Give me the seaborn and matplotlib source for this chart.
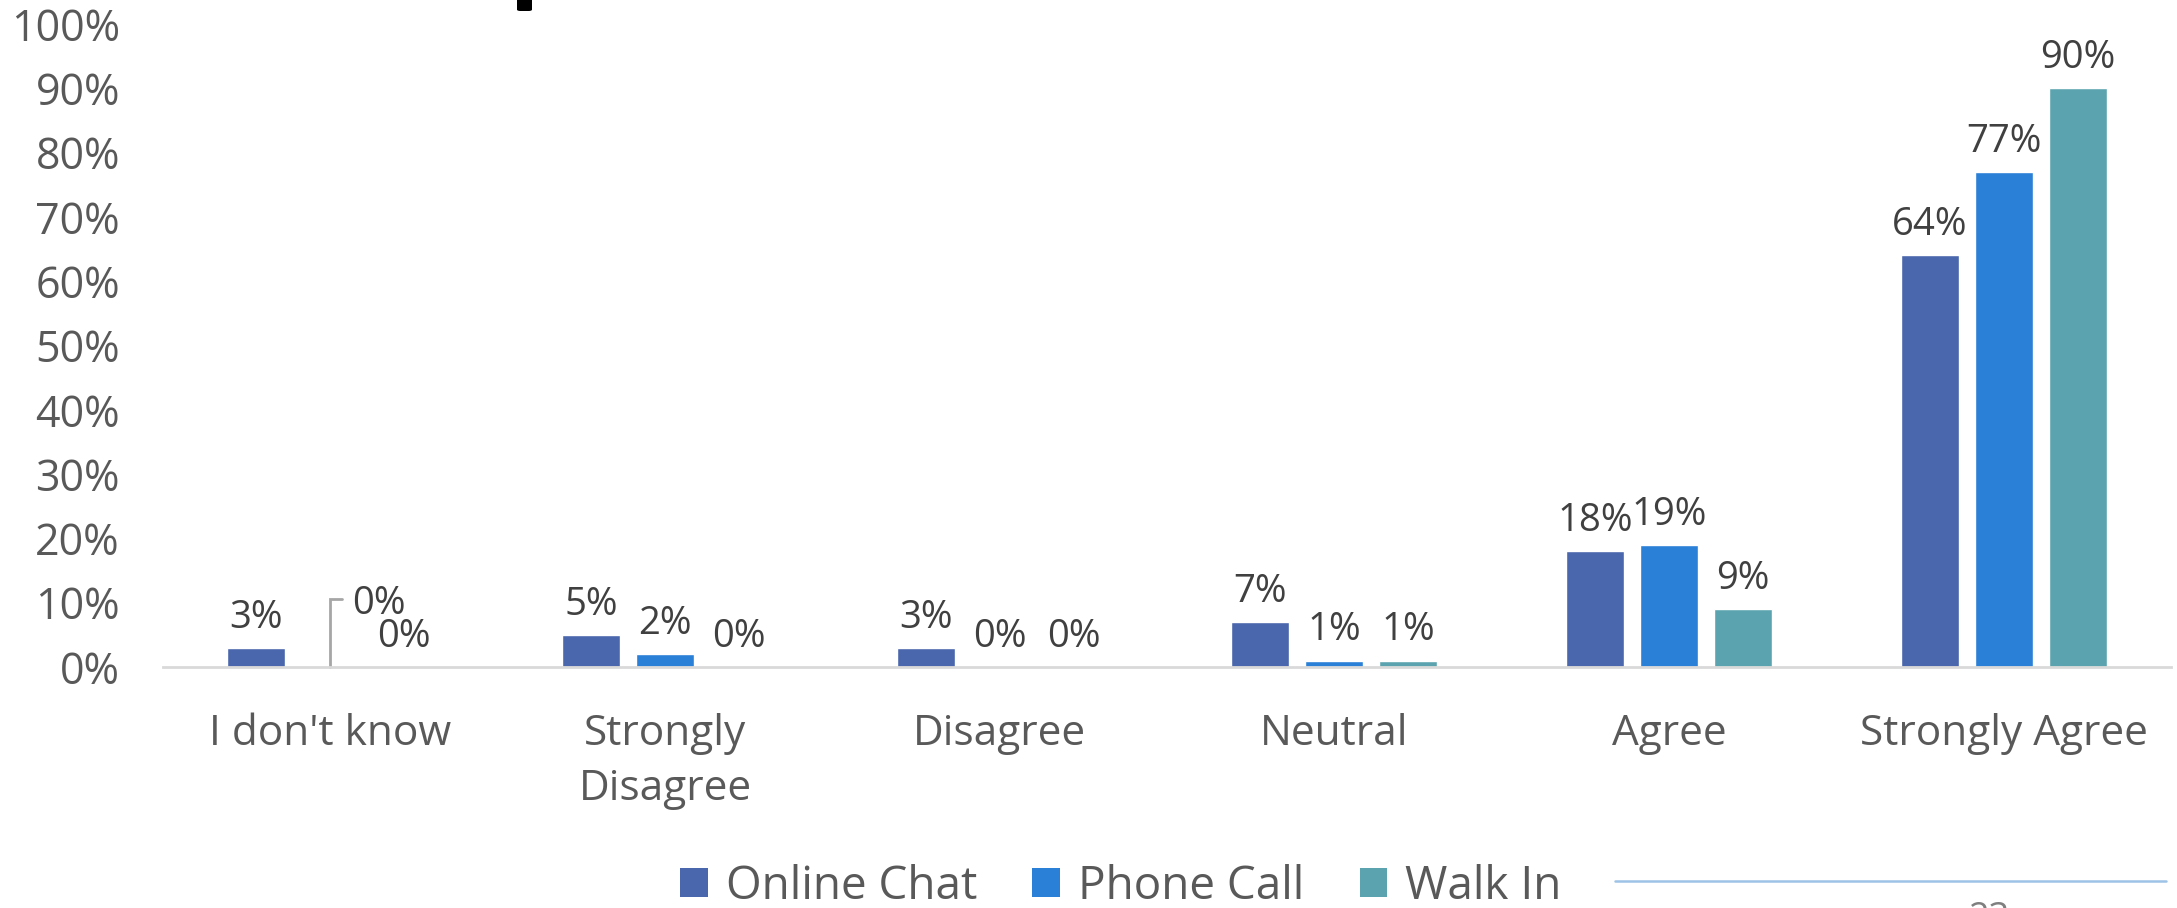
import matplotlib
matplotlib.use("Agg")
import matplotlib.pyplot as plt
import seaborn as sns
import pandas as pd
from matplotlib.patches import FancyBboxPatch, Patch
from matplotlib.lines import Line2D

categories = ["I don't know", "Strongly\nDisagree", "Disagree", "Neutral", "Agree", "Strongly Agree"]
series = ["Online Chat", "Phone Call", "Walk In"]
online_chat = [0.03, 0.05, 0.03, 0.07, 0.18, 0.64]
phone_call = [0.00, 0.02, 0.00, 0.01, 0.19, 0.77]
walk_in = [0.00, 0.00, 0.00, 0.01, 0.09, 0.90]
colors = ["#4A66AC", "#2A7FD6", "#5BA3AE"]
yticks = [0, 0.1, 0.2, 0.3, 0.4, 0.5, 0.6, 0.7, 0.8, 0.9, 1.0]
ytick_labels = ["0%", "10%", "20%", "30%", "40%", "50%", "60%", "70%", "80%", "90%", "100%"]

df = pd.DataFrame({
    "category": categories * 3,
    "series": [s for s in series for _ in categories],
    "value": online_chat + phone_call + walk_in,
})

sns.set_theme(style="white")
plt.rcParams["font.family"] = ["Open Sans", "DejaVu Sans"]

W, H, DPI = 2177, 908, 100
fig = plt.figure(figsize=(W / DPI, H / DPI), dpi=DPI)
ax = fig.add_axes([163 / W, 1 - 667 / H, (2171 - 163) / W, (667 - 24) / H])

sns.barplot(data=df, x="category", y="value", hue="series", order=categories,
            hue_order=series, palette=colors, width=0.663, gap=0.217,
            saturation=1, ax=ax, legend=False)

ax.set_xlim(-0.5, 5.5)
ax.set_ylim(0, 1.0)
ax.set_yticks(yticks)
ax.set_yticklabels(ytick_labels)
ax.set_xlabel("")
ax.set_ylabel("")
for s in ["top", "right", "left"]:
    ax.spines[s].set_visible(False)
ax.spines["bottom"].set_color("#D9D9D9")
ax.spines["bottom"].set_linewidth(2)
ax.tick_params(axis="y", labelsize=31, colors="#595959", length=0, pad=31)
ax.tick_params(axis="x", labelsize=30.5, colors="#595959", length=0, pad=33)
for lbl in ax.get_xticklabels():
    lbl.set_linespacing(1.4)

label_color = "#404040"
for ci, cont in enumerate(ax.containers):
    labels = []
    for bi, bar in enumerate(cont):
        if ci == 1 and bi == 0:
            labels.append("")
        else:
            labels.append(f"{round(bar.get_height() * 100):d}%")
    ax.bar_label(cont, labels=labels, padding=8, fontsize=27.5, color=label_color)

# moved label with leader line (Phone Call, "I don't know")
bar = ax.containers[1][0]
bx = bar.get_x() + bar.get_width() / 2
by = bar.get_height()
ax.plot([bx, bx, bx + 0.035], [by, by + 0.106, by + 0.106], color="#A6A6A6", lw=2,
        solid_joinstyle="miter", clip_on=False)
ax.text(bx + 0.066, by + 0.098, f"{round(by * 100):d}%", fontsize=27.5,
        color=label_color, va="center", ha="left")

handles = [Patch(facecolor=c, edgecolor="none") for c in colors]
fig.legend(handles, series, loc="center", bbox_to_anchor=(1121 / W, 1 - 887 / H),
           ncol=3, frameon=False, fontsize=33, labelcolor="#595959",
           handlelength=0.6, handleheight=0.6, handletextpad=0.4,
           columnspacing=1.2, borderaxespad=0, borderpad=0)

# slide artifacts
fig.patches.append(FancyBboxPatch((517 / W, 1 - 11 / H), 15 / W, 16 / H,
                                  boxstyle="round,pad=0,rounding_size=0.0015",
                                  transform=fig.transFigure, facecolor="black",
                                  edgecolor="none"))
fig.lines.append(Line2D([1615 / W, 2166 / W], [1 - 881 / H, 1 - 881 / H],
                        transform=fig.transFigure, color="#9DC3E6", lw=1.8))
fig.text(1989 / W, 1 - 901 / H, "23", fontsize=26, color="#7F7F7F",
         ha="center", va="top")

fig.savefig("out.png", dpi=DPI)
